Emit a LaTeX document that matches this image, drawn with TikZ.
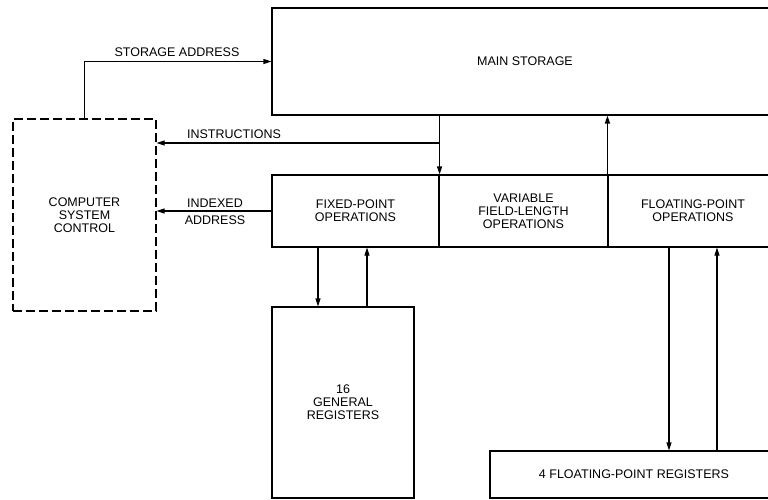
\documentclass[tikz,border=0pt]{standalone}
\usepackage{fontspec}
\setmainfont{Liberation Sans}
\usetikzlibrary{arrows.meta}
\begin{document}
\begin{tikzpicture}[x=1pt,y=-1pt,line width=1.1pt,
  txt/.style={font=\fontsize{12.5}{13}\selectfont},
  box/.style={draw,inner sep=0pt,align=center,txt},
  dbox/.style={box,dash pattern=on 9pt off 4pt},
  lbl/.style={inner sep=0pt,align=center,txt},
  arr/.style={-{Triangle[length=8pt,width=5pt]}}]
\useasboundingbox (0,0) rectangle (768,500);
\clip (0,0) rectangle (768,500);
% boxes
\node[box,minimum width=506pt,minimum height=107pt] (ms) at (525,61.5) {MAIN STORAGE};
\node[dbox,minimum width=143pt,minimum height=192pt] (csc) at (84.5,215) {COMPUTER\\SYSTEM\\CONTROL};
\node[box,minimum width=167pt,minimum height=72pt] (fix) at (355.5,211) {FIXED-POINT\\OPERATIONS};
\node[box,minimum width=169pt,minimum height=72pt] (var) at (523.5,211) {VARIABLE\\FIELD-LENGTH\\OPERATIONS};
\node[box,minimum width=170pt,minimum height=72pt] (flt) at (693,211) {FLOATING-POINT\\OPERATIONS};
\node[box,minimum width=142pt,minimum height=191pt] (gr) at (343,402.5) {16\\GENERAL\\REGISTERS};
\node[box,minimum width=288pt,minimum height=47pt] (fpr) at (634,474.5) {4 FLOATING-POINT REGISTERS};
% helper coordinates
\coordinate (ij) at (439,143);
\coordinate (g1) at (318,0);
\coordinate (g2) at (367,0);
\coordinate (f1) at (669,0);
\coordinate (f2) at (717,0);
% connectors
\draw[arr] (csc.north) |- (ms.west);
\draw[arr] (ms.south -| fix.east) -- (fix.north east);
\draw[arr] (ij) -- (ij -| csc.east);
\draw[arr] (fix.west) -- (fix.west -| csc.east);
\draw[arr] (flt.north west) -- (flt.north west |- ms.south);
\draw[arr] (fix.south -| g1) -- (gr.north -| g1);
\draw[arr] (gr.north -| g2) -- (fix.south -| g2);
\draw[arr] (flt.south -| f1) -- (fpr.north -| f1);
\draw[arr] (fpr.north -| f2) -- (flt.south -| f2);
% labels
\node[lbl,anchor=south] (lsa) at (177,57) {STORAGE ADDRESS};
\node[lbl,anchor=south] (lin) at (234,139) {INSTRUCTIONS};
\node[lbl,anchor=south] (lix) at (215,208) {INDEXED};
\node[lbl,anchor=north] (lad) at (215,215) {ADDRESS};
\end{tikzpicture}
\end{document}
